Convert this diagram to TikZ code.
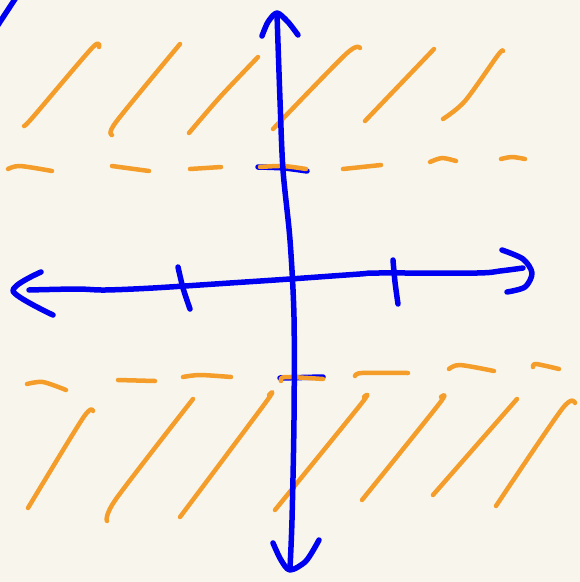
\documentclass[tikz,border=0pt]{standalone}
\definecolor{paper}{HTML}{F8F6EC}
\definecolor{penblue}{HTML}{0000F0}
\definecolor{penorange}{HTML}{F49D2A}
\tikzset{
  blueink/.style={draw=penblue,line width=5.5pt,line cap=round,line join=round},
  orangeink/.style={draw=penorange,line width=4.5pt,line cap=round,line join=round}
}
\begin{document}
\begin{tikzpicture}[x=1pt,y=-1pt]
\fill[paper] (0,0) rectangle (580,582);
\useasboundingbox (0,0) rectangle (580,582);
\clip (0,0) rectangle (580,582);

% ticks
\draw[blueink] plot[smooth] coordinates {(258,167) (284,168) (307,171)};
\draw[blueink] (280,378) -- (323,377);
\draw[blueink] plot[smooth] coordinates {(178,267) (183,288) (190,309)};
\draw[blueink] plot[smooth] coordinates {(393,260) (395,282) (398,304)};

% top dashed line
\draw[orangeink] plot[smooth] coordinates {(8,169) (20,166) (52,171)};
\draw[orangeink] (112,166) -- (149,171);
\draw[orangeink] (190,169) -- (221,167);
\draw[orangeink] plot[smooth] coordinates {(260,167) (283,166) (306,169)};
\draw[orangeink] (343,169) -- (381,165);
\draw[orangeink] plot[smooth] coordinates {(430,162) (442,158) (456,161)};
\draw[orangeink] plot[smooth] coordinates {(501,159) (512,157) (525,159)};

% bottom dashed line
\draw[orangeink] plot[smooth] coordinates {(27,384) (43,382) (66,390)};
\draw[orangeink] (118,380) -- (155,381);
\draw[orangeink] plot[smooth] coordinates {(183,377) (200,375) (231,377)};
\draw[orangeink] plot[smooth] coordinates {(281,381) (285,377) (323,379)};
\draw[orangeink] plot[smooth] coordinates {(355,376) (362,373) (408,373)};
\draw[orangeink] plot[smooth] coordinates {(449,369) (460,365) (494,371)};
\draw[orangeink] plot[smooth] coordinates {(533,367) (536,364) (559,369)};

% hatching above
\draw[orangeink] plot[smooth] coordinates {(24,126) (33,117) (92,48) (99,47)};
\draw[orangeink] plot[smooth] coordinates {(112,135) (116,122) (180,44)};
\draw[orangeink] plot[smooth] coordinates {(189,133) (220,97) (258,57)};
\draw[orangeink] plot[smooth] coordinates {(273,129) (346,54) (360,48)};
\draw[orangeink] (365,121) -- (434,49);
\draw[orangeink] plot[smooth] coordinates {(443,119) (465,101) (498,55) (503,51)};

% hatching below
\draw[orangeink] plot[smooth] coordinates {(28,508) (83,418) (93,411)};
\draw[orangeink] plot[smooth] coordinates {(107,521) (116,499) (193,399)};
\draw[orangeink] plot[smooth] coordinates {(180,517) (266,402) (269,395)};
\draw[orangeink] plot[smooth] coordinates {(275,510) (361,404) (364,397)};
\draw[orangeink] plot[smooth] coordinates {(362,500) (439,404) (441,397)};
\draw[orangeink] (433,495) -- (517,399);
\draw[orangeink] plot[smooth] coordinates {(496,506) (562,409) (575,403)};

% corner stroke
\draw[blueink] (-4,28) -- (17,-4);

% vertical axis
\draw[blueink] plot[smooth] coordinates {(277,14) (280,100) (283,170) (290,240) (294,317) (294,420) (292,520) (290,568)};
\draw[blueink] plot[smooth] coordinates {(262,36) (268,22) (277,13) (288,22) (298,35)};
\draw[blueink] plot[smooth] coordinates {(273,543) (281,560) (290,570) (306,561) (319,540)};

% horizontal axis
\draw[blueink] plot[smooth] coordinates {(29,290) (77,289) (105,290) (153,288) (230,283) (290,279) (360,274) (378,273) (477,273) (500,271) (523,268)};
\draw[blueink] plot[smooth] coordinates {(41,272) (13,291) (53,315)};
\draw[blueink] plot[smooth] coordinates {(502,250) (523,259) (532,273) (525,287) (507,292)};
\end{tikzpicture}
\end{document}
